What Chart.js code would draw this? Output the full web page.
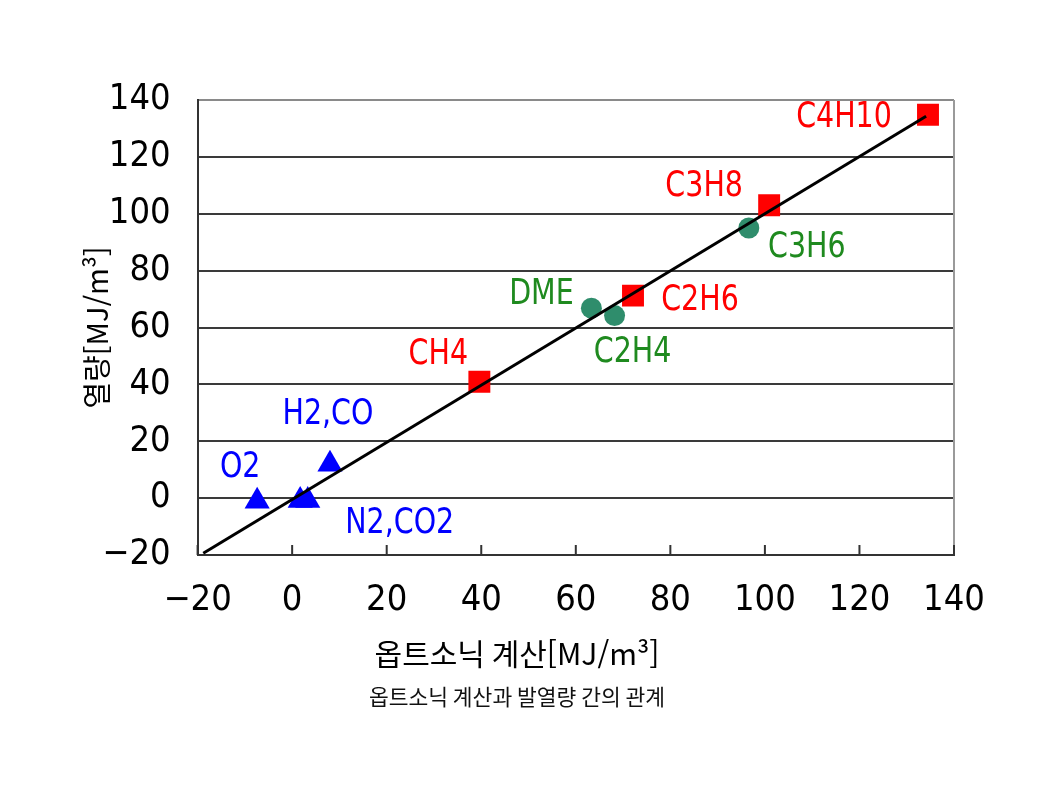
<!DOCTYPE html>
<html lang="ko">
<head>
<meta charset="utf-8">
<script src="https://cdn.jsdelivr.net/npm/chart.js"></script>
<style>
html, body { margin: 0; padding: 0; background: #fff; }
</style>
</head>
<body>
<canvas id="chart" width="1056" height="794"></canvas>
<script>
// 옵트소닉 계산값(x) 과 발열량(y), 단위 MJ/m3
const alkaneNames = ['C4H10', 'C3H8', 'C2H6', 'CH4'];
const alkaneCalc  = [134.5, 100.9, 72.1, 39.6];
const alkaneHeat  = [134.8, 103.0, 71.2, 40.9];

const olefinNames = ['C3H6', 'DME', 'C2H4'];
const olefinCalc  = [96.6, 63.3, 68.2];
const olefinHeat  = [95.0, 66.8, 64.2];

const gasNames = ['H2,CO', 'O2', '', 'N2,CO2'];
const gasCalc  = [8.0, -7.4, 1.7, 3.3];
const gasHeat  = [11.9, -1.1, -0.8, -0.8];

const fitCalc = [-18.8, 134.1];
const fitHeat = [-19.4, 134.3];

const axisMin = -20, axisMax = 140, axisStep = 20;

const xTitle = '옵트소닉 계산[MJ/m³]';
const yTitle = '열량[MJ/m³]';
const caption = '옵트소닉 계산과 발열량 간의 관계';

const NARROW = "'Liberation Sans Narrow', 'DejaVu Sans Condensed', 'Liberation Sans', sans-serif";
const KR = "'Noto Sans CJK KR', 'Noto Sans', sans-serif";

function pts(xs, ys) {
    return xs.map((x, i) => ({ x: x, y: ys[i] }));
}

// where each name sits relative to its marker (pixels)
const labelOffsets = {
    'C4H10': [-84, 3], 'C3H8': [-65, -19], 'C2H6': [67, 5], 'CH4': [-41, -27],
    'C3H6': [58, 20], 'DME': [-50, -14], 'C2H4': [18, 37],
    'H2,CO': [-2, -50], 'O2': [-17, -34], 'N2,CO2': [92, 23]
};

const pointLabels = {
    id: 'pointLabels',
    afterDatasetsDraw(chart) {
        const ctx = chart.ctx;
        chart.data.datasets.forEach((ds, di) => {
            if (!ds.names) return;
            const meta = chart.getDatasetMeta(di);
            meta.data.forEach((el, i) => {
                const name = ds.names[i];
                if (!name) return;
                const off = labelOffsets[name] || [0, 0];
                ctx.save();
                ctx.translate(el.x + off[0], el.y + off[1]);
                ctx.scale(0.88, 1);   // narrow lettering like the original
                ctx.font = '36px ' + NARROW;
                ctx.textAlign = 'center';
                ctx.textBaseline = 'middle';
                ctx.fillStyle = ds.labelColor;
                ctx.fillText(name, 0, 0);
                ctx.restore();
            });
        });
    }
};

const frame = {
    id: 'frame',
    afterDraw(chart) {
        const ctx = chart.ctx;
        const area = chart.chartArea;
        const xs = chart.scales.x;
        ctx.save();
        // right edge of the plot
        ctx.strokeStyle = '#9a9a9a';
        ctx.lineWidth = 2;
        ctx.beginPath();
        ctx.moveTo(area.right, area.top);
        ctx.lineTo(area.right, area.bottom);
        ctx.stroke();
        // short inward ticks on the x axis
        ctx.strokeStyle = '#333';
        ctx.beginPath();
        xs.ticks.forEach(t => {
            const px = xs.getPixelForValue(t.value);
            ctx.moveTo(px, area.bottom);
            ctx.lineTo(px, area.bottom - 10);
        });
        ctx.stroke();
        ctx.restore();
    }
};

const minusFmt = v => String(v).replace('-', '\u2212');

new Chart(document.getElementById('chart').getContext('2d'), {
    type: 'scatter',
    data: {
        datasets: [
            {
                type: 'line',
                data: pts(fitCalc, fitHeat),
                borderColor: '#000',
                borderWidth: 3,
                pointRadius: 0,
                fill: false,
                order: 0
            },
            {
                data: pts(alkaneCalc, alkaneHeat),
                names: alkaneNames,
                labelColor: '#ff0000',
                pointStyle: 'rect',
                pointRadius: 15.5,
                backgroundColor: '#ff0000',
                borderWidth: 0,
                order: 1
            },
            {
                data: pts(olefinCalc, olefinHeat),
                names: olefinNames,
                labelColor: '#1f8a1f',
                pointStyle: 'circle',
                pointRadius: 10.5,
                backgroundColor: '#2f8d6c',
                borderWidth: 0,
                order: 1
            },
            {
                data: pts(gasCalc, gasHeat),
                names: gasNames,
                labelColor: '#0000ff',
                pointStyle: 'triangle',
                pointRadius: 14.5,
                backgroundColor: '#0000ff',
                borderWidth: 0,
                order: 1
            }
        ]
    },
    options: {
        responsive: false,
        animation: false,
        events: [],
        layout: { padding: { top: 100, right: 102, left: 80, bottom: 0 } },
        plugins: {
            legend: { display: false },
            tooltip: { enabled: false },
            // axis name under the tick labels
            subtitle: {
                display: true,
                position: 'bottom',
                text: xTitle,
                color: '#000',
                font: { family: KR, size: 30, weight: 'normal' },
                padding: { top: 6, bottom: 0 }
            },
            // figure caption
            title: {
                display: true,
                position: 'bottom',
                text: caption,
                color: '#111',
                font: { family: KR, size: 21.5, weight: 'normal' },
                padding: { top: 12.1, bottom: 84.1 }
            }
        },
        scales: {
            x: {
                type: 'linear',
                min: axisMin,
                max: axisMax,
                afterFit: s => { s.height = 75; },
                ticks: {
                    stepSize: axisStep,
                    padding: 24,
                    maxRotation: 0,
                    color: '#000',
                    font: { family: NARROW, size: 36 },
                    callback: minusFmt
                },
                grid: { display: false, drawTicks: false },
                border: { display: true, color: '#333', width: 2 }
            },
            y: {
                type: 'linear',
                min: axisMin,
                max: axisMax,
                afterFit: s => { s.width = 117.6; },
                ticks: {
                    stepSize: axisStep,
                    padding: 27,
                    color: '#000',
                    font: { family: NARROW, size: 36 },
                    callback: minusFmt
                },
                grid: {
                    drawTicks: false,
                    lineWidth: 2,
                    color: c => (c.tick && c.tick.value === axisMax) ? '#8a8a8a' : '#3a3a3a'
                },
                border: { display: true, color: '#333', width: 2 },
                title: {
                    display: true,
                    text: yTitle,
                    color: '#000',
                    font: { family: KR, size: 29 },
                    padding: { top: 0, bottom: 0 }
                }
            }
        }
    },
    plugins: [pointLabels, frame]
});
</script>
</body>
</html>
